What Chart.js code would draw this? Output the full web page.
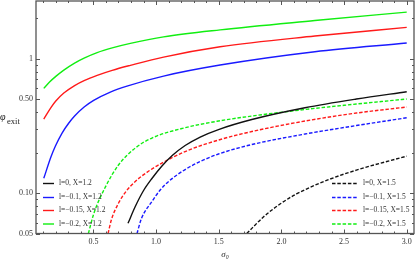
<!DOCTYPE html>
<html><head><meta charset="utf-8">
<script src="https://cdn.jsdelivr.net/npm/chart.js@4.4.1/dist/chart.umd.min.js"></script>
<style>html,body{margin:0;padding:0;background:#fff}#wrap{width:417px;height:260px;position:relative}</style>
</head><body><div id="wrap"><canvas id="c"></canvas></div>
<script>
// ---- data ----
const xMajorTicks = [0.5, 1.0, 1.5, 2.0, 2.5, 3.0];
const xMinorStep = 0.1;
const yTickValues = [0.05, 0.06, 0.07, 0.08, 0.09, 0.1, 0.2, 0.3, 0.4, 0.5, 0.6, 0.7, 0.8, 0.9, 1, 2];
const yMajorTicks = [0.05, 0.1, 0.5, 1];
const yMajorLabels = ['0.05', '0.10', '0.50', '1'];

const seriesLabels = [
  'l=0, X=1.2', 'l=\u22120.1, X=1.2', 'l=\u22120.15, X=1.2', 'l=\u22120.2, X=1.2',
  'l=0, X=1.5', 'l=\u22120.1, X=1.5', 'l=\u22120.15, X=1.5', 'l=\u22120.2, X=1.5'
];

const sigmaBlackSolid = [0.776, 0.834, 0.898, 0.967, 1.047, 1.129, 1.232, 1.352, 1.498, 1.764, 2.188, 2.598, 3.0];
const phiBlackSolid   = [0.0595, 0.0793, 0.1035, 0.1282, 0.1587, 0.19, 0.2255, 0.2609, 0.2965, 0.352, 0.4306, 0.4998, 0.5664];

const sigmaBlueSolid = [0.104, 0.161, 0.197, 0.25, 0.301, 0.35, 0.426, 0.502, 0.635, 0.768, 1.06, 1.511, 2.267, 3.0];
const phiBlueSolid   = [0.1286, 0.1852, 0.2236, 0.2793, 0.3287, 0.3737, 0.4359, 0.4888, 0.5634, 0.6245, 0.741, 0.8947, 1.1236, 1.304];

const sigmaRedSolid = [0.104, 0.161, 0.2, 0.264, 0.35, 0.43, 0.53, 0.65, 0.795, 1.06, 1.511, 2.267, 3.0];
const phiRedSolid   = [0.355, 0.4322, 0.4831, 0.5541, 0.63, 0.6885, 0.75, 0.8172, 0.8901, 1.026, 1.224, 1.47, 1.706];

const sigmaGreenSolid = [0.104, 0.15, 0.2, 0.264, 0.35, 0.43, 0.53, 0.65, 0.795, 1.06, 1.511, 2.267, 3.0];
const phiGreenSolid   = [0.600, 0.669, 0.7374, 0.8212, 0.9258, 1.012, 1.108, 1.201, 1.297, 1.45, 1.635, 1.917, 2.217];

const sigmaBlackDashed = [1.724, 1.856, 1.989, 2.12, 2.36, 2.598, 3.0];
const phiBlackDashed   = [0.05, 0.0663, 0.0828, 0.0984, 0.124, 0.148, 0.188];

const sigmaBlueDashed = [0.848, 0.882, 0.967, 1.033, 1.10, 1.232, 1.352, 1.498, 1.764, 2.188, 2.598, 3.0];
const phiBlueDashed   = [0.05, 0.0641, 0.0865, 0.1053, 0.1218, 0.1495, 0.1714, 0.195, 0.2294, 0.2746, 0.3175, 0.3629];

const sigmaRedDashed = [0.617, 0.643, 0.701, 0.763, 0.834, 0.930, 1.047, 1.232, 1.498, 1.764, 2.188, 2.598, 3.0];
const phiRedDashed   = [0.05, 0.063, 0.0843, 0.1035, 0.1218, 0.1432, 0.1671, 0.2035, 0.2478, 0.2866, 0.343, 0.3933, 0.4359];

const sigmaGreenDashed = [0.46, 0.502, 0.596, 0.70, 0.834, 0.967, 1.232, 1.498, 1.764, 2.188, 2.598, 3.0];
const phiGreenDashed   = [0.05, 0.0698, 0.111, 0.1615, 0.216, 0.2564, 0.306, 0.343, 0.3737, 0.418, 0.459, 0.50];

// ---- build ----
const pts = (xs, ys) => xs.map((v, i) => ({x: v, y: ys[i]}));
const colBlack = '#111111', colBlue = '#1a1aff', colRed = '#ff1a1a', colGreen = '#11ee11';
const dash = [3.5, 1.8];
const series = [
  [sigmaBlackSolid, phiBlackSolid, colBlack, []],
  [sigmaBlueSolid, phiBlueSolid, colBlue, []],
  [sigmaRedSolid, phiRedSolid, colRed, []],
  [sigmaGreenSolid, phiGreenSolid, colGreen, []],
  [sigmaBlackDashed, phiBlackDashed, colBlack, dash],
  [sigmaBlueDashed, phiBlueDashed, colBlue, dash],
  [sigmaRedDashed, phiRedDashed, colRed, dash],
  [sigmaGreenDashed, phiGreenDashed, colGreen, dash]
];
const datasets = series.map((s, i) => ({
  label: seriesLabels[i],
  data: pts(s[0], s[1]),
  borderColor: s[2],
  backgroundColor: s[2],
  borderDash: s[3],
  borderWidth: 1.4,
  pointRadius: 0,
  fill: false,
  cubicInterpolationMode: 'monotone'
}));

const serif = "'Liberation Serif', 'DejaVu Serif', serif";
const noPad = s => { s.paddingTop = 0; s.paddingBottom = 0; s.paddingLeft = 0; s.paddingRight = 0; };

const framePlugin = {
  id: 'frame',
  afterDatasetsDraw(chart) {
    const {ctx, chartArea: a, scales: {x, y}} = chart;
    ctx.save();
    ctx.strokeStyle = '#555';
    ctx.lineWidth = 1;
    ctx.beginPath();
    x.ticks.forEach(t => {
      const px = Math.round(x.getPixelForValue(t.value)) + 0.5;
      const len = t.major ? 4 : 2;
      ctx.moveTo(px, a.bottom); ctx.lineTo(px, a.bottom - len);
      ctx.moveTo(px, a.top); ctx.lineTo(px, a.top + len);
    });
    y.ticks.forEach(t => {
      const py = Math.round(y.getPixelForValue(t.value)) + 0.5;
      const len = t.major ? 4 : 2;
      ctx.moveTo(a.left, py); ctx.lineTo(a.left + len, py);
      ctx.moveTo(a.right, py); ctx.lineTo(a.right - len, py);
    });
    ctx.stroke();
    ctx.lineWidth = 1.3;
    ctx.strokeRect(a.left, a.top, a.right - a.left, a.bottom - a.top);
    // y-axis title
    ctx.fillStyle = '#222';
    ctx.textBaseline = 'alphabetic';
    ctx.font = 'italic 10px ' + serif;
    ctx.fillText('\u03c6', 0, 120);
    ctx.font = '8.5px ' + serif;
    ctx.fillText('exit', 7, 123.5);
    // legends
    ctx.font = '7.5px ' + serif;
    ctx.textBaseline = 'middle';
    const rows = [183.5, 197.5, 210.5, 224];
    const groups = [
      {idx: [0, 1, 2, 3], x0: 43, x1: 54, tx: 59},
      {idx: [4, 5, 6, 7], x0: 332, x1: 357, tx: 363}
    ];
    groups.forEach(g => {
      g.idx.forEach((di, r) => {
        const ds = chart.data.datasets[di];
        ctx.strokeStyle = ds.borderColor;
        ctx.lineWidth = 1.4;
        ctx.setLineDash(ds.borderDash || []);
        ctx.beginPath();
        ctx.moveTo(g.x0, rows[r]); ctx.lineTo(g.x1, rows[r]);
        ctx.stroke();
        ctx.setLineDash([]);
        ctx.fillStyle = '#333';
        ctx.fillText(ds.label, g.tx, rows[r]);
      });
    });
    ctx.restore();
  }
};

new Chart(document.getElementById('c'), {
  type: 'line',
  data: {datasets},
  options: {
    responsive: true,
    maintainAspectRatio: false,
    animation: false,
    layout: {padding: {left: 0, right: 3, top: 1, bottom: 0}},
    plugins: {legend: {display: false}, tooltip: {enabled: false}},
    scales: {
      x: {
        type: 'linear', min: 0.042, max: 3.058,
        grid: {display: false, drawTicks: false}, border: {display: false},
        afterBuildTicks: s => {
          const arr = [];
          for (let i = 1; i <= 30; i++) {
            const v = Math.round(i * xMinorStep * 10) / 10;
            arr.push({value: v, major: xMajorTicks.includes(v)});
          }
          s.ticks = arr;
        },
        ticks: {
          autoSkip: false, maxRotation: 0, padding: 4, color: '#333',
          font: {family: serif, size: 8},
          callback: v => xMajorTicks.includes(v) ? v.toFixed(1) : ''
        },
        title: {display: true, text: '\u03c3\u2080', color: '#222', padding: {top: 0, bottom: 0},
                font: {family: serif, size: 9, style: 'italic'}},
        afterFit: s => { s.height = 26.5; noPad(s); }
      },
      y: {
        type: 'logarithmic', min: 0.05, max: 2.68,
        grid: {display: false, drawTicks: false}, border: {display: false},
        afterBuildTicks: s => {
          s.ticks = yTickValues.map(v => ({value: v, major: yMajorTicks.includes(v)}));
        },
        ticks: {
          autoSkip: false, padding: 3, color: '#333',
          font: {family: serif, size: 8},
          callback: v => {
            const i = yMajorTicks.indexOf(v);
            return i >= 0 ? yMajorLabels[i] : '';
          }
        },
        afterFit: s => { s.width = 36; noPad(s); }
      }
    }
  },
  plugins: [framePlugin]
});
</script>
</body></html>
